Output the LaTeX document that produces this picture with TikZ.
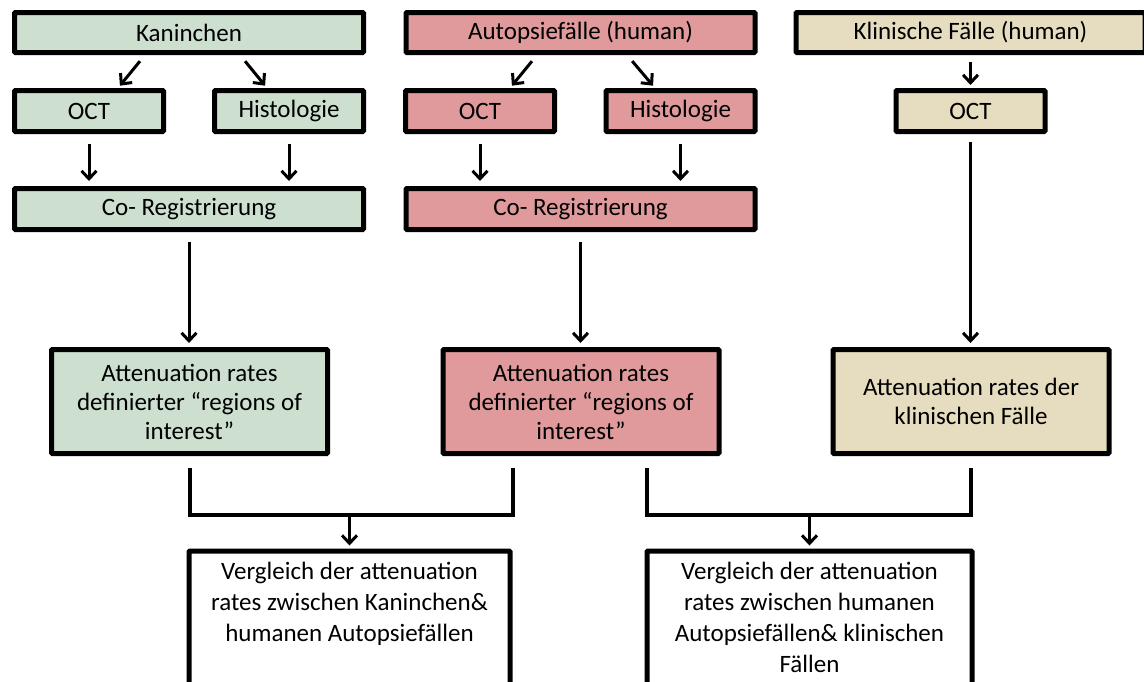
\documentclass[tikz,border=0pt]{standalone}
\usepackage{fontspec}
\setmainfont{Carlito}
\usepackage{xcolor}
\definecolor{rabbitColor}{RGB}{205, 224, 208}
\definecolor{autopsyColor}{RGB}{224, 154, 156}
\definecolor{clinicColor}{RGB}{230, 221, 192}
\usepackage{tikz}
\usetikzlibrary{arrows.meta, positioning, calc}

\begin{document}
\begin{tikzpicture}[x=1pt, y=-1pt,
    box/.style={draw, line width=5pt, rounded corners=1pt, inner sep=0pt, align=center, font=\fontsize{25}{29}\selectfont},
    wide/.style={box, minimum width=349pt, minimum height=40pt},
    small/.style={box, minimum width=149pt, minimum height=41pt},
    roi/.style={box, minimum width=276pt, minimum height=104pt},
    cmp/.style={box, anchor=north, inner xsep=2pt, inner ysep=11pt},
    arr/.style={-{Straight Barb[length=8pt, width=15pt]}, line width=3pt},
    link/.style={line width=4pt}]
    \useasboundingbox (0,0) rectangle (1144,681);

    \node[wide, fill=rabbitColor] (kan) at (189,32.5) {Kaninchen};
    \node[small, fill=rabbitColor] (octA) at (89,111) {OCT};
    \node[small, fill=rabbitColor] (hisA) at (289,111) {Histologie};
    \node[wide, fill=rabbitColor, minimum height=41pt] (regA) at (189,209) {Co- Registrierung};
    \node[roi, fill=rabbitColor] (roiA) at (189.5,401.5) {Attenuation rates\\ definierter “regions of\\ interest”};

    \node[wide, fill=autopsyColor] (aut) at (580.5,32.5) {Autopsiefälle (human)};
    \node[small, fill=autopsyColor] (octB) at (480,111) {OCT};
    \node[small, fill=autopsyColor] (hisB) at (680.5,111) {Histologie};
    \node[wide, fill=autopsyColor, minimum height=41pt] (regB) at (580.5,209) {Co- Registrierung};
    \node[roi, fill=autopsyColor] (roiB) at (581,401.5) {Attenuation rates\\ definierter “regions of\\ interest”};

    \node[wide, fill=clinicColor] (kli) at (970.5,32.5) {Klinische Fälle (human)};
    \node[small, fill=clinicColor] (octC) at (970.5,111) {OCT};
    \node[roi, fill=clinicColor] (roiC) at (971,401.5) {Attenuation rates der\\ klinischen Fälle};

    \node[cmp] (cmpA) at (349.5,548.5) {\begin{minipage}[t][170pt][t]{317pt}\centering\fontsize{25}{31}\selectfont
        Vergleich der attenuation\\ rates zwischen Kaninchen\&\\ humanen Autopsiefällen\end{minipage}};
    \node[cmp] (cmpB) at (809.5,548.5) {\begin{minipage}[t][170pt][t]{321pt}\centering\fontsize{25}{31}\selectfont
        Vergleich der attenuation\\ rates zwischen humanen\\ Autopsiefällen\& klinischen\\ Fällen\end{minipage}};

    \draw[arr, shorten <=8pt, shorten >=3pt] ([xshift=-44pt]kan.south) -- ([xshift=29pt]octA.north);
    \draw[arr, shorten <=8pt, shorten >=3pt] ([xshift=51pt]kan.south) -- ([xshift=-22pt]hisA.north);
    \draw[arr, shorten <=8pt, shorten >=3pt] ([xshift=-43.5pt]aut.south) -- ([xshift=30pt]octB.north);
    \draw[arr, shorten <=8pt, shorten >=3pt] ([xshift=46.5pt]aut.south) -- ([xshift=-25.5pt]hisB.north);
    \draw[arr, shorten <=7pt, shorten >=3pt] (kli.south) -- (octC.north);

    \draw[arr, shorten <=10pt, shorten >=5pt] (octA.south) -- (octA.south |- regA.north);
    \draw[arr, shorten <=10pt, shorten >=5pt] (hisA.south) -- (hisA.south |- regA.north);
    \draw[arr, shorten <=10pt, shorten >=5pt] (octB.south) -- (octB.south |- regB.north);
    \draw[arr, shorten <=10pt, shorten >=5pt] (hisB.south) -- (hisB.south |- regB.north);

    \draw[arr, shorten <=10pt, shorten >=4pt] (regA.south) -- (regA.south |- roiA.north);
    \draw[arr, shorten <=10pt, shorten >=4pt] (regB.south) -- (regB.south |- roiB.north);
    \draw[arr, shorten <=8pt, shorten >=4pt] (octC.south) -- (octC.south |- roiC.north);

    \draw[link] ([yshift=-12pt]roiA.south) -- ++(0,47) coordinate (legA) -| ([xshift=-68pt, yshift=-12pt]roiB.south);
    \draw[link] ([xshift=66pt, yshift=-12pt]roiB.south) -- ++(0,47) coordinate (legB) -| ([yshift=-12pt]roiC.south);
    \draw[arr, shorten >=3pt] (legA -| cmpA.north) -- (cmpA.north);
    \draw[arr, shorten >=3pt] (legB -| cmpB.north) -- (cmpB.north);
\end{tikzpicture}
\end{document}
